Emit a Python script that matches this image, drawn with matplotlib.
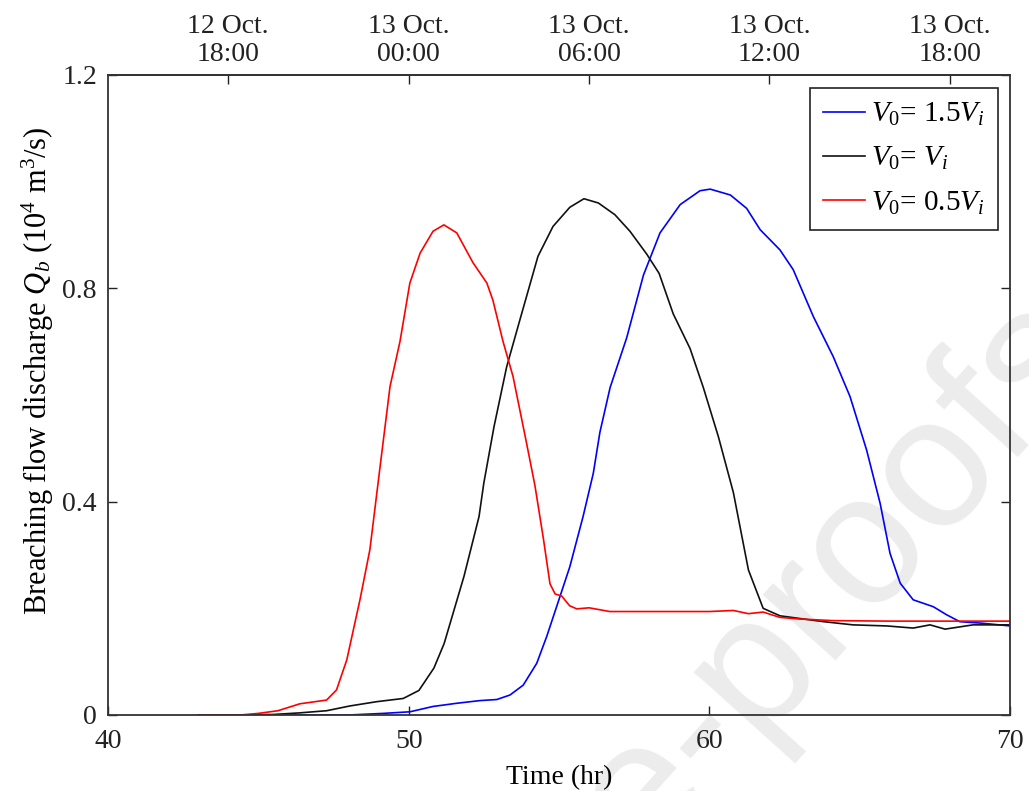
import matplotlib
matplotlib.use("Agg")
import matplotlib.pyplot as plt

plt.rcParams["font.family"] = "serif"
plt.rcParams["font.serif"] = ["Liberation Serif", "DejaVu Serif"]
plt.rcParams["mathtext.fontset"] = "custom"
plt.rcParams["mathtext.rm"] = "Liberation Serif"
plt.rcParams["mathtext.it"] = "Liberation Serif:italic"

# Breaching flow hydrographs for three initial volumes
t_half = [43.0, 44.4, 45.0, 45.65, 46.38, 47.27, 47.6, 47.94, 48.38, 48.71, 49.05,
          49.38, 49.71, 50.04, 50.38, 50.81, 51.17, 51.6, 52.14, 52.6, 52.8, 53.14,
          53.47, 53.92, 54.2, 54.48, 54.7, 54.87, 55.09, 55.35, 55.59, 56.0, 56.69,
          58.0, 60.0, 60.8, 61.3, 61.79, 62.35, 63.0, 64.1, 66.0, 70.0]
q_half = [0.0, 0.0, 0.003, 0.008, 0.021, 0.028, 0.047, 0.103, 0.216, 0.31, 0.466,
          0.616, 0.70, 0.81, 0.866, 0.907, 0.919, 0.904, 0.848, 0.81, 0.778, 0.70,
          0.635, 0.51, 0.43, 0.331, 0.246, 0.227, 0.223, 0.205, 0.199, 0.201, 0.194,
          0.194, 0.194, 0.196, 0.19, 0.193, 0.183, 0.18, 0.177, 0.176, 0.176]

t_one = [43.0, 44.4, 45.5, 46.38, 47.27, 48.05, 48.94, 49.82, 50.34, 50.84, 51.18,
         51.84, 52.34, 52.5, 52.84, 53.26, 53.7, 54.3, 54.8, 55.36, 55.83, 56.31,
         56.86, 57.36, 57.92, 58.33, 58.8, 59.36, 59.8, 60.3, 60.8, 61.3, 61.79,
         62.35, 63.0, 63.8, 64.78, 65.9, 66.78, 67.34, 67.84, 68.77, 70.0]
q_one = [0.0, 0.0, 0.001, 0.004, 0.008, 0.017, 0.025, 0.031, 0.046, 0.088, 0.134,
         0.26, 0.372, 0.435, 0.541, 0.653, 0.741, 0.86, 0.916, 0.952, 0.968, 0.96,
         0.938, 0.907, 0.864, 0.828, 0.752, 0.687, 0.614, 0.522, 0.417, 0.272, 0.20,
         0.186, 0.181, 0.175, 0.169, 0.167, 0.163, 0.169, 0.161, 0.169, 0.169]

t_onehalf = [43.0, 48.0, 49.15, 50.04, 50.81, 51.6, 52.37, 52.93, 53.37, 53.81, 54.26,
             54.59, 54.92, 55.36, 55.8, 56.14, 56.36, 56.7, 57.25, 57.81, 58.36, 59.03,
             59.69, 60.03, 60.7, 61.24, 61.69, 62.35, 62.79, 63.46, 64.12, 64.68, 65.23,
             65.68, 66.01, 66.35, 66.78, 67.45, 67.89, 68.33, 69.1, 70.0]
q_onehalf = [0.0, 0.0, 0.003, 0.006, 0.016, 0.022, 0.027, 0.029, 0.0375, 0.056, 0.097,
             0.147, 0.203, 0.278, 0.372, 0.453, 0.53, 0.614, 0.707, 0.825, 0.904, 0.957,
             0.983, 0.986, 0.975, 0.95, 0.91, 0.872, 0.835, 0.747, 0.672, 0.597, 0.497,
             0.397, 0.303, 0.247, 0.216, 0.203, 0.188, 0.175, 0.172, 0.167]

series_labels = [r"$V_{\mathit{0}}$= 1.5$V_i$", r"$V_{\mathit{0}}$= $V_i$",
                 r"$V_{\mathit{0}}$= 0.5$V_i$"]

x_ticks = [40, 50, 60, 70]
y_ticks = [0, 0.4, 0.8, 1.2]
y_tick_labels = ["0", "0.4", "0.8", "1.2"]
date_ticks = [44, 50, 56, 62, 68]
date_labels = ["12 Oct.\n18:00", "13 Oct.\n00:00", "13 Oct.\n06:00",
               "13 Oct.\n12:00", "13 Oct.\n18:00"]

fig = plt.figure(figsize=(10.29, 7.91), dpi=100)
ax = fig.add_axes([108 / 1029, 1 - 715 / 791, 902 / 1029, 640 / 791])
ax.patch.set_alpha(0)

# faint diagonal watermark behind the axes
fig.text(1105 / 1029, 1 - 362 / 791, "Journal Pre-proofs", family="Liberation Sans",
         fontsize=134, color="#ececec", rotation=48, rotation_mode="anchor",
         ha="right", va="baseline", zorder=-5)

lw = 1.2
ax.plot(t_onehalf, q_onehalf, color="#0000ff", lw=lw, label=series_labels[0])
ax.plot(t_one, q_one, color="#111111", lw=lw, label=series_labels[1])
ax.plot(t_half, q_half, color="#ff0000", lw=lw, label=series_labels[2])

ax.set_xlim(40, 70)
ax.set_ylim(0, 1.2)
ax.set_xticks(x_ticks)
ax.set_yticks(y_ticks, labels=y_tick_labels)
ax.tick_params(axis="both", direction="in", length=6.5, width=1.0, labelsize=20,
               colors="#222222", top=False, right=True)
ax.tick_params(axis="y", pad=8)
ax.tick_params(axis="x", pad=10)
for s in ax.spines.values():
    s.set_linewidth(1.3)
    s.set_color("#333333")

ax.set_xlabel("Time (hr)", fontsize=20, labelpad=8)
ax.set_ylabel(r"Breaching flow discharge $Q_b$ (10$^4$ m$^3$/s)", fontsize=22)
ax.yaxis.set_label_coords(-0.058, 0.538)

sec = ax.secondary_xaxis("top")
sec.set_xticks(date_ticks, labels=date_labels)
sec.tick_params(direction="in", length=6.5, width=1.0, labelsize=20, pad=6,
                colors="#222222")
sec.spines["top"].set_linewidth(1.3)
sec.spines["top"].set_color("#333333")
for lab in sec.get_xticklabels():
    lab.set_linespacing(1.15)

leg = ax.legend(loc="upper right", bbox_to_anchor=(0.9867, 0.9797), borderaxespad=0,
                fontsize=21, frameon=True, fancybox=False, framealpha=1,
                edgecolor="#222222", handlelength=1.45, handletextpad=0.2,
                labelspacing=0.58, borderpad=0.45)
leg.get_frame().set_linewidth(1.2)

fig.savefig("out.png", dpi=100)
